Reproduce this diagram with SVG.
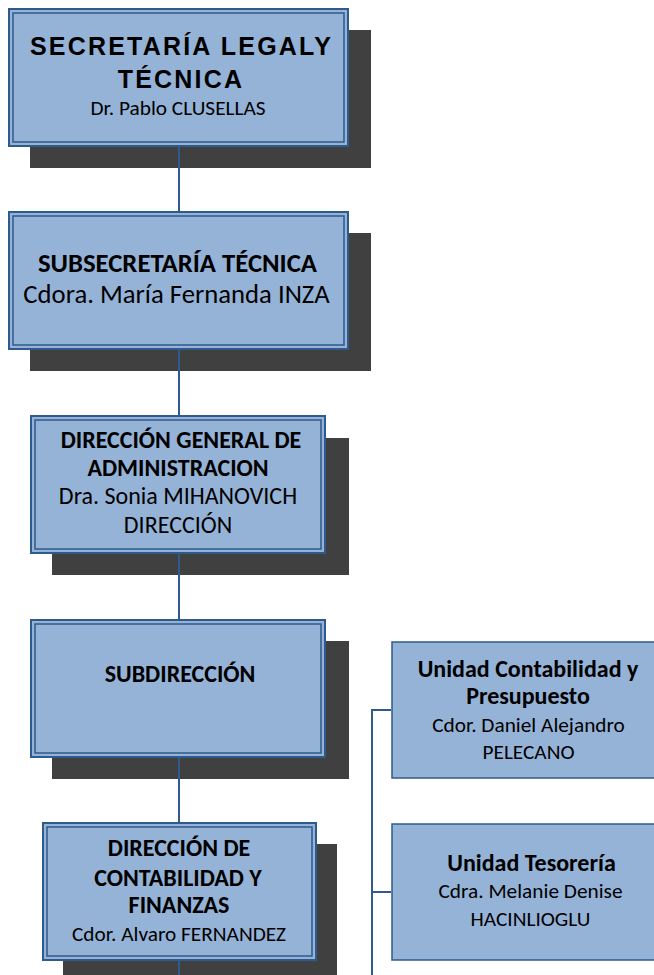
<svg xmlns="http://www.w3.org/2000/svg" width="654" height="975" viewBox="0 0 654 975">
<style>
.sh{fill:#404040}
.bo{fill:#95B3D7;stroke:#2F5A8C;stroke-width:2}
.bi{fill:none;stroke:#2F5A8C;stroke-width:1.5}
.bs{fill:#95B3D7;stroke:#2F5A8C;stroke-width:1.5}
.cn{stroke:#2F5A8C;stroke-width:2;fill:none}
text{font-family:Carlito,"Open Sans",sans-serif;fill:#000;text-anchor:middle}
.b{font-weight:bold}
.l{font-size:24px}
.s{font-size:21.3px}
.ar{font-family:"Liberation Sans",Arial,sans-serif;font-weight:bold;font-size:25px;letter-spacing:2.2px}
</style>
<rect width="654" height="975" fill="#fff"/>
<g id="n1">
<rect class="sh" x="30" y="30" width="341" height="138"/>
<rect class="bo" x="9" y="9" width="339" height="137"/>
<rect class="bi" x="13" y="13" width="331" height="129"/>
<text class="ar" x="181.5" y="55">SECRETARÍA LEGALY</text>
<text class="ar" x="181" y="88">TÉCNICA</text>
<text class="s" x="178" y="115">Dr. Pablo CLUSELLAS</text>
</g>
<g id="n2">
<rect class="sh" x="30" y="233" width="341" height="138"/>
<rect class="bo" x="9" y="212" width="339" height="137"/>
<rect class="bi" x="13" y="216" width="331" height="129"/>
<text class="b" x="177.5" y="272" font-size="26.7">SUBSECRETARÍA TÉCNICA</text>
<text x="176.5" y="303" font-size="26.7">Cdora. María Fernanda INZA</text>
</g>
<g id="n3">
<rect class="sh" x="52" y="438" width="297" height="137"/>
<rect class="bo" x="31" y="416" width="294" height="137"/>
<rect class="bi" x="35" y="420" width="286" height="129"/>
<text class="b l" x="181" y="448">DIRECCIÓN GENERAL DE</text>
<text class="b l" x="178" y="476">ADMINISTRACION</text>
<text class="l" x="178" y="504">Dra. Sonia MIHANOVICH</text>
<text class="l" x="178" y="533">DIRECCIÓN</text>
</g>
<g id="n4">
<rect class="sh" x="52" y="641" width="297" height="138"/>
<rect class="bo" x="31" y="620" width="294" height="137"/>
<rect class="bi" x="35" y="624" width="286" height="129"/>
<text class="b l" x="180" y="682">SUBDIRECCIÓN</text>
</g>
<g id="n5">
<rect class="sh" x="63" y="844" width="274" height="140"/>
<rect class="bo" x="43" y="823" width="273" height="137"/>
<rect class="bi" x="47" y="827" width="265" height="129"/>
<text class="b l" x="179" y="856">DIRECCIÓN DE</text>
<text class="b l" x="178" y="886">CONTABILIDAD Y</text>
<text class="b l" x="179" y="913">FINANZAS</text>
<text class="s" x="179" y="941">Cdor. Alvaro FERNANDEZ</text>
</g>
<g id="n6">
<rect class="bs" x="392" y="642" width="275" height="136"/>
<text class="b l" x="528" y="677">Unidad Contabilidad y</text>
<text class="b l" x="528" y="704">Presupuesto</text>
<text class="s" x="528.5" y="732">Cdor. Daniel Alejandro</text>
<text class="s" x="528.5" y="759">PELECANO</text>
</g>
<g id="n7">
<rect class="bs" x="392" y="824" width="275" height="136"/>
<text class="b l" x="531.5" y="871">Unidad Tesorería</text>
<text class="s" x="530.5" y="898">Cdra. Melanie Denise</text>
<text class="s" x="530.5" y="926">HACINLIOGLU</text>
</g>
<g id="connectors">
<line class="cn" x1="179" y1="147" x2="179" y2="211"/>
<line class="cn" x1="179" y1="350" x2="179" y2="415"/>
<line class="cn" x1="179" y1="554" x2="179" y2="619"/>
<line class="cn" x1="179" y1="758" x2="179" y2="822"/>
<line class="cn" x1="179" y1="961" x2="179" y2="975"/>
<polyline class="cn" points="391,710 372,710 372,975"/>
<line class="cn" x1="372" y1="892" x2="391" y2="892"/>
</g>
</svg>
